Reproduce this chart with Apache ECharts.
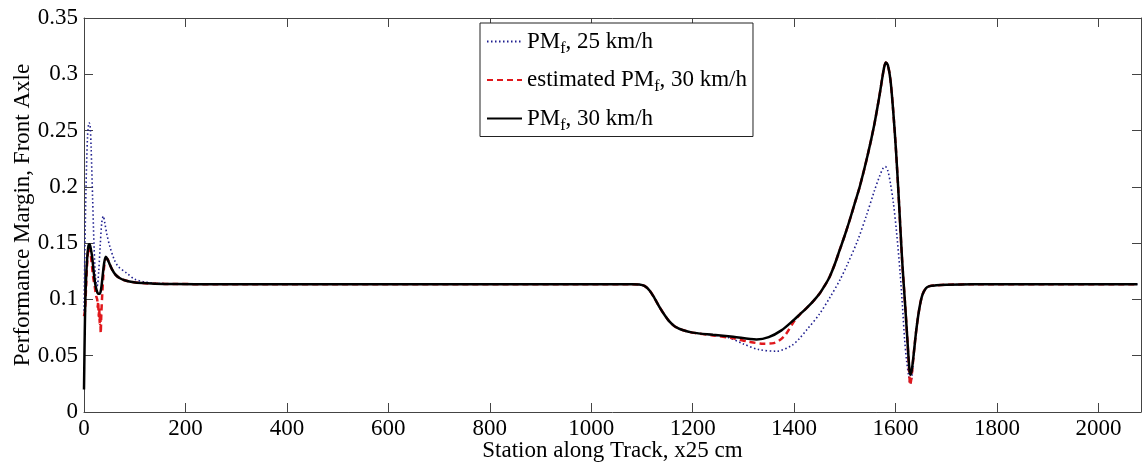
<!DOCTYPE html>
<html>
<head>
<meta charset="utf-8">
<script src="https://cdn.jsdelivr.net/npm/echarts@6/dist/echarts.min.js"></script>
<style>
html,body{margin:0;padding:0;background:#fff;}
#chart{width:1143px;height:465px;}
</style>
</head>
<body>
<div id="chart"></div>
<script>
// ---- Data ----
const xTicks = [0, 200, 400, 600, 800, 1000, 1200, 1400, 1600, 1800, 2000];
const yTicks = [0, 0.05, 0.1, 0.15, 0.2, 0.25, 0.3, 0.35];

const seriesNames = ['PM_f, 25 km/h', 'estimated PM_f, 30 km/h', 'PM_f, 30 km/h'];

// PM_f, 25 km/h (blue dotted)
const station25 = [0, 2, 4, 7, 10, 12, 14, 17, 20, 23,
  26, 29, 32, 35, 38, 41, 45, 51, 60, 68,
  84, 100, 120, 150, 200, 1080, 1095, 1105, 1115, 1125,
  1135, 1145, 1155, 1165, 1180, 1200, 1240, 1270, 1300, 1330,
  1366, 1395, 1410, 1425, 1450, 1471, 1490, 1504, 1525, 1543, 1558,
  1569, 1576, 1580, 1585, 1590, 1596, 1602, 1609, 1614, 1618, 1622,
  1626, 1629, 1632, 1636, 1641, 1647, 1653, 1660, 1667, 1680,
  1700, 1750, 1900, 2077];
const pm25 = [0.09, 0.15, 0.2, 0.245, 0.257, 0.255, 0.235, 0.19, 0.145, 0.118,
  0.112, 0.125, 0.148, 0.168, 0.174, 0.168, 0.158, 0.147, 0.135, 0.129,
  0.1235, 0.118, 0.1155, 0.1142, 0.1137, 0.1135, 0.1132, 0.112, 0.108, 0.101,
  0.093, 0.086, 0.080, 0.076, 0.0728, 0.0705, 0.0684, 0.0662, 0.0605, 0.0555,
  0.054, 0.059, 0.065, 0.073, 0.087, 0.102, 0.117, 0.13, 0.152, 0.175, 0.196,
  0.21, 0.217, 0.218, 0.214, 0.203, 0.185, 0.16, 0.124, 0.092, 0.064, 0.045,
  0.032, 0.025, 0.03, 0.05, 0.073, 0.092, 0.104, 0.11, 0.1118, 0.1125,
  0.113, 0.1135, 0.1135, 0.1135];

// estimated PM_f, 30 km/h (red dashed)
const stationEst30 = [0, 2, 4, 6, 8, 10, 12, 15, 18, 21,
  24, 26, 27, 28, 29, 30, 31, 32, 33, 34,
  36, 38, 40, 43, 46, 50, 55, 62, 70, 80,
  95, 115, 140, 180, 260, 1080, 1095, 1105, 1115, 1125,
  1135, 1145, 1155, 1165, 1180, 1200, 1240, 1280, 1310, 1340,
  1360, 1380, 1400, 1412, 1425, 1437, 1450, 1460, 1470, 1480,
  1490, 1500, 1510, 1520, 1530, 1545, 1558, 1568, 1574, 1578,
  1581, 1585, 1590, 1595, 1601, 1607, 1613, 1619, 1624, 1627,
  1629, 1632, 1636, 1641, 1647, 1653, 1660, 1667, 1680, 1700,
  1750, 1900, 2077];
const pmEst30 = [0.085, 0.09, 0.11, 0.13, 0.142, 0.147, 0.144, 0.133, 0.12, 0.112,
  0.103, 0.1, 0.093, 0.098, 0.085, 0.092, 0.078, 0.088, 0.07, 0.085,
  0.105, 0.12, 0.13, 0.136, 0.136, 0.132, 0.127, 0.122, 0.119, 0.117,
  0.1155, 0.1145, 0.114, 0.1137, 0.1135, 0.1135, 0.1132, 0.112, 0.108, 0.101,
  0.093, 0.086, 0.080, 0.076, 0.0728, 0.0705, 0.068, 0.0655, 0.0625, 0.0607,
  0.0612, 0.067, 0.0805, 0.087, 0.0925, 0.098, 0.105, 0.112, 0.12, 0.131,
  0.144, 0.157, 0.171, 0.186, 0.201, 0.228, 0.255, 0.28, 0.297, 0.307,
  0.3105, 0.308, 0.295, 0.27, 0.232, 0.185, 0.135, 0.095, 0.06, 0.035,
  0.024, 0.033, 0.052, 0.073, 0.092, 0.104, 0.11, 0.1118, 0.1125, 0.113,
  0.1135, 0.1135, 0.1135];

// PM_f, 30 km/h (black solid)
const station30 = [0, 1, 2, 3, 5, 7, 9, 11, 13, 16,
  19, 22, 25, 28, 31, 34, 37, 40, 43, 46,
  50, 55, 62, 70, 80, 95, 115, 140, 180, 260,
  1080, 1095, 1105, 1115, 1125, 1135, 1145, 1155, 1165, 1180,
  1200, 1240, 1280, 1326, 1350, 1375, 1400, 1412, 1425, 1437,
  1450, 1460, 1470, 1480, 1490, 1500, 1510, 1520, 1530, 1545,
  1558, 1568, 1574, 1578, 1581, 1585, 1590, 1595, 1601, 1607,
  1613, 1619, 1624, 1627, 1629, 1632, 1636, 1641, 1647, 1653,
  1660, 1667, 1680, 1700, 1750, 1900, 2077];
const pm30 = [0.02, 0.055, 0.085, 0.105, 0.127, 0.141, 0.148, 0.149, 0.146, 0.138,
  0.125, 0.114, 0.108, 0.105, 0.105, 0.11, 0.122, 0.133, 0.138, 0.136,
  0.132, 0.127, 0.122, 0.119, 0.117, 0.1155, 0.1145, 0.114, 0.1137, 0.1135,
  0.1135, 0.1132, 0.112, 0.108, 0.101, 0.093, 0.086, 0.080, 0.076, 0.0728,
  0.0705, 0.0686, 0.0668, 0.0645, 0.0665, 0.0725, 0.082, 0.087, 0.0925, 0.098,
  0.105, 0.112, 0.12, 0.131, 0.144, 0.157, 0.171, 0.186, 0.201, 0.228,
  0.255, 0.28, 0.297, 0.307, 0.3105, 0.308, 0.295, 0.27, 0.232, 0.185,
  0.135, 0.095, 0.06, 0.04, 0.033, 0.037, 0.052, 0.073, 0.092, 0.104,
  0.11, 0.1118, 0.1125, 0.113, 0.1135, 0.1135, 0.1135];

// ---- Chart ----
const FONT = '"Liberation Serif", "Times New Roman", serif';
const zip = (xs, ys) => xs.map((x, i) => [x, ys[i]]);
const xMin = 0, xMax = 2084, yMin = 0, yMax = 0.35;

const axisLineStyle = { color: '#444', width: 1 };

function xAxisBase(pos) {
  return {
    type: 'value', position: pos, min: xMin, max: xMax, interval: 200,
    axisLine: { show: true, onZero: false, lineStyle: axisLineStyle },
    axisTick: { show: true, inside: true, length: 9, lineStyle: axisLineStyle },
    splitLine: { show: false },
    axisLabel: { show: false }
  };
}
function yAxisBase(pos) {
  return {
    type: 'value', position: pos, min: yMin, max: yMax, interval: 0.05,
    axisLine: { show: true, onZero: false, lineStyle: axisLineStyle },
    axisTick: { show: true, inside: true, length: 9, lineStyle: axisLineStyle },
    splitLine: { show: false },
    axisLabel: { show: false }
  };
}

const xBottom = xAxisBase('bottom');
xBottom.axisLabel = {
  show: true, fontFamily: FONT, fontSize: 23, color: '#000', margin: 5,
  showMaxLabel: false,
  formatter: v => (xTicks.indexOf(v) >= 0 ? String(v) : '')
};
xBottom.name = 'Station along Track, x25 cm';
xBottom.nameLocation = 'middle';
xBottom.nameGap = 27;
xBottom.nameMoveOverlap = false;
xBottom.nameTextStyle = { fontFamily: FONT, fontSize: 23, color: '#000' };

const yLeft = yAxisBase('left');
yLeft.axisLabel = {
  show: true, fontFamily: FONT, fontSize: 23, color: '#000', margin: 6,
  formatter: v => {
    const t = yTicks.find(k => Math.abs(k - v) < 1e-9);
    return t === undefined ? '' : String(t);
  }
};
yLeft.name = 'Performance Margin, Front Axle';
yLeft.nameLocation = 'middle';
yLeft.nameGap = 50;
yLeft.nameMoveOverlap = false;
yLeft.nameTextStyle = { fontFamily: FONT, fontSize: 23, color: '#000' };

const richLabels = {
  'PM_f, 25 km/h': 'PM{sub|f}, 25 km/h',
  'estimated PM_f, 30 km/h': 'estimated PM{sub|f}, 30 km/h',
  'PM_f, 30 km/h': 'PM{sub|f}, 30 km/h'
};

const chart = echarts.init(document.getElementById('chart'), null, { renderer: 'canvas' });
chart.setOption({
  animation: false,
  backgroundColor: '#fff',
  grid: { left: 84, right: 2, top: 18, bottom: 53, containLabel: false, outerBoundsMode: 'none' },
  xAxis: [xBottom, xAxisBase('top')],
  yAxis: [yLeft, yAxisBase('right')],
  legend: {
    orient: 'vertical', left: 480, top: 23,
    padding: [7, 6, 3, 6], itemGap: 12, itemWidth: 35, itemHeight: 14,
    borderColor: '#222', borderWidth: 1, backgroundColor: '#fff',
    itemStyle: { opacity: 0, borderWidth: 0, color: 'transparent' },
    data: seriesNames,
    formatter: n => richLabels[n],
    textStyle: {
      fontFamily: FONT, fontSize: 23, color: '#000',
      rich: {
        sub: { fontFamily: FONT, fontSize: 16, color: '#000', padding: [14, 0, 0, 0] }
      }
    }
  },
  series: [
    {
      name: seriesNames[0], type: 'line', data: zip(station25, pm25),
      showSymbol: false, symbol: 'none', smooth: 0.3,
      lineStyle: { color: '#1f1f8f', width: 1.6, type: [1.5, 2.5] },
      itemStyle: { color: '#1f1f8f' }, z: 2
    },
    {
      name: seriesNames[1], type: 'line', data: zip(stationEst30, pmEst30),
      showSymbol: false, symbol: 'none', smooth: 0.3,
      lineStyle: { color: '#e0181c', width: 2.5, type: [6, 4] },
      itemStyle: { color: '#e0181c' }, z: 3
    },
    {
      name: seriesNames[2], type: 'line', data: zip(station30, pm30),
      showSymbol: false, symbol: 'none', smooth: 0.3,
      lineStyle: { color: '#000', width: 2.5, type: 'solid' },
      itemStyle: { color: '#000' }, z: 4
    }
  ]
});
</script>
</body>
</html>
